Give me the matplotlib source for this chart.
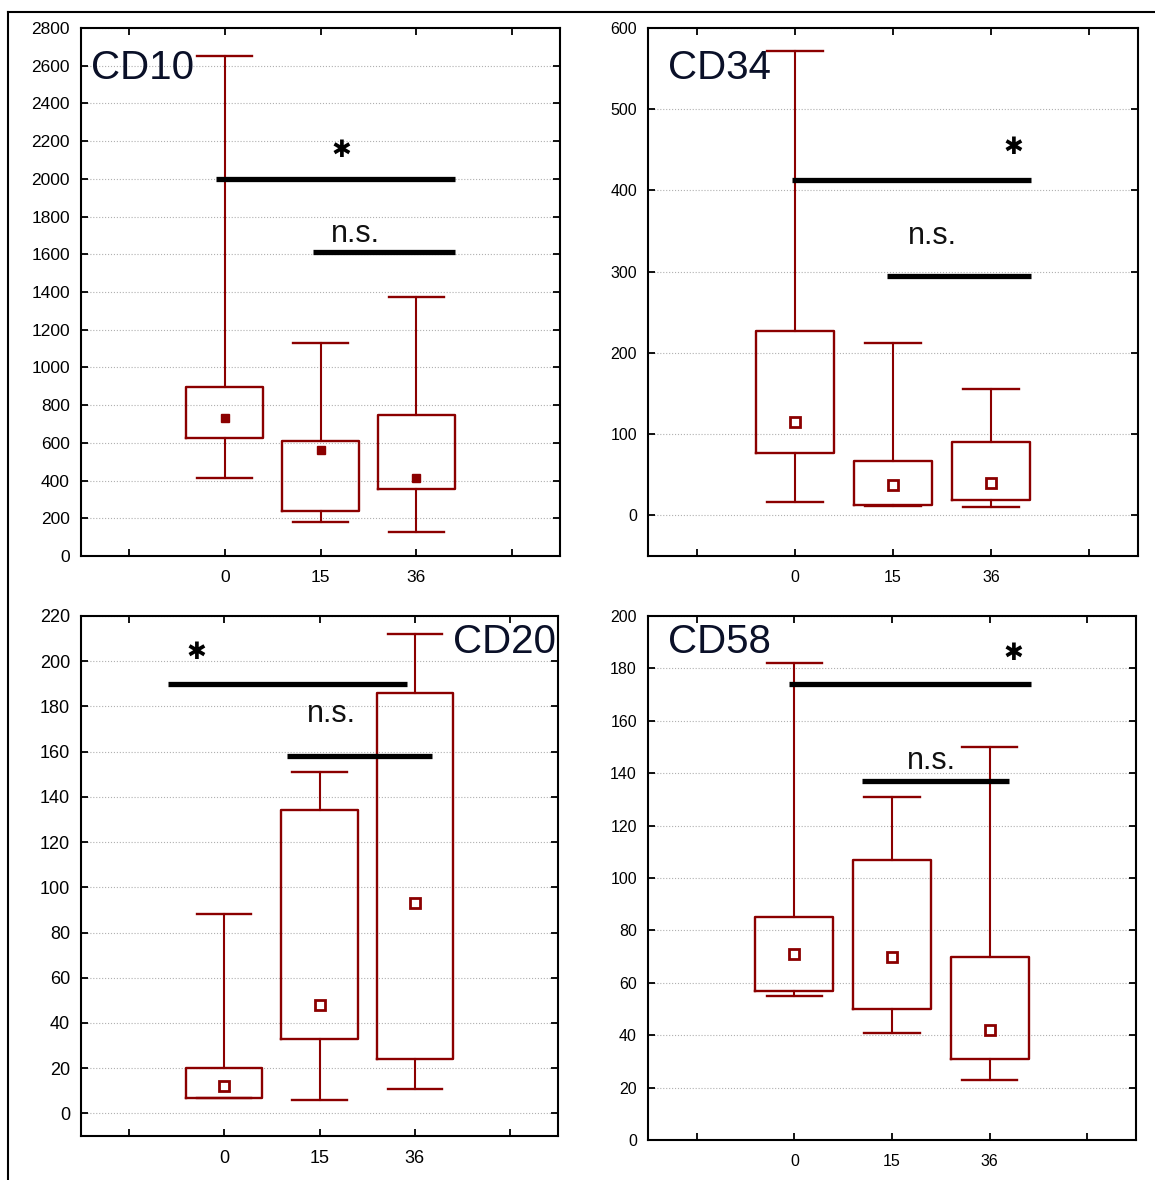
import matplotlib.pyplot as plt
import matplotlib.lines as mlines

plt.rcParams['font.family'] = ['Liberation Sans', 'DejaVu Sans']

groups = ['0', '15', '36']
red = '#8b0000'

# per panel: whisker low, q1, median, q3, whisker high for each group
cd10_low = [413, 180, 125]
cd10_q1 = [625, 240, 355]
cd10_med = [730, 560, 413]
cd10_q3 = [897, 610, 750]
cd10_high = [2650, 1130, 1375]

cd34_low = [17, 12, 10]
cd34_q1 = [77, 13, 19]
cd34_med = [115, 38, 40]
cd34_q3 = [227, 67, 90]
cd34_high = [572, 212, 155]

cd20_low = [7, 6, 11]
cd20_q1 = [7, 33, 24]
cd20_med = [12, 48, 93]
cd20_q3 = [20, 134, 186]
cd20_high = [88, 151, 212]

cd58_low = [55, 41, 23]
cd58_q1 = [57, 50, 31]
cd58_med = [71, 70, 42]
cd58_q3 = [85, 107, 70]
cd58_high = [182, 131, 150]

fig = plt.figure(figsize=(11.55, 11.8), dpi=100)

# outer frame (top and left edge)
fig.add_artist(mlines.Line2D([8/1155, 1], [1-12/1180, 1-12/1180], color='black', lw=1.5))
fig.add_artist(mlines.Line2D([8/1155, 8/1155], [0, 1-12/1180], color='black', lw=1.5))


def panel(rect, low, q1, med, q3, high, ylim, yticks, filled, label, label_pos, label_ha,
          star, big, small, ns_text, tick_size):
    ax = fig.add_axes(rect)
    stats = []
    for i in range(3):
        stats.append({'whislo': low[i], 'q1': q1[i], 'med': med[i],
                      'q3': q3[i], 'whishi': high[i], 'fliers': []})
    ax.bxp(stats, positions=[0, 1, 2], widths=0.8, capwidths=0.57, showfliers=False,
           boxprops=dict(color=red, lw=1.7), whiskerprops=dict(color=red, lw=1.5),
           capprops=dict(color=red, lw=1.7), medianprops=dict(lw=0))
    if filled:
        ax.plot([0, 1, 2], med, 's', color=red, ms=6, zorder=5)
    else:
        ax.plot([0, 1, 2], med, 's', mfc='white', mec=red, mew=2, ms=6.5, zorder=5)

    # significance bars
    ax.plot([big[0], big[1]], [big[2], big[2]], color='black', lw=3.8, solid_capstyle='butt', zorder=6)
    ax.plot([small[0], small[1]], [small[2], small[2]], color='black', lw=3.8, solid_capstyle='butt', zorder=6)
    ax.text(star[0], star[1], '\u2731', fontsize=17, ha='center', va='center',
            family='DejaVu Sans')
    ax.text(ns_text[0], ns_text[1], 'n.s.', fontsize=22, ha='center', va='center', color='#111')
    ax.text(label_pos[0], label_pos[1], label, transform=ax.transAxes, fontsize=29,
            ha=label_ha, va='center', color='#0a1028')

    ax.set_xlim(-1.5, 3.5)
    ax.set_ylim(*ylim)
    ax.set_xticks([-1, 0, 1, 2, 3])
    ax.set_xticklabels([''] + groups + [''], fontsize=tick_size)
    ax.set_yticks(yticks)
    ax.tick_params(direction='in', top=True, right=True, length=5, width=1.3, labelsize=tick_size)
    ax.tick_params(axis='x', pad=10)
    ax.tick_params(axis='y', pad=8)
    ax.yaxis.grid(True, linestyle=':', color='#b0b0b0', lw=0.8)
    ax.set_axisbelow(True)
    for s in ax.spines.values():
        s.set_linewidth(1.5)
    return ax


panel([81/1155, 1-556/1180, 479/1155, 528/1180], cd10_low, cd10_q1, cd10_med, cd10_q3, cd10_high,
      (0, 2800), range(0, 2801, 200), True, 'CD10', (0.02, 0.925), 'left',
      (1.22, 2155), (-0.09, 2.4, 2000), (0.92, 2.4, 1610), (1.37, 1710), 12.5)

panel([648/1155, 1-556/1180, 490/1155, 528/1180], cd34_low, cd34_q1, cd34_med, cd34_q3, cd34_high,
      (-50, 600), range(0, 601, 100), False, 'CD34', (0.04, 0.925), 'left',
      (2.23, 454), (-0.03, 2.41, 413), (0.94, 2.41, 295), (1.4, 344), 11.5)

panel([81/1155, 1-1136/1180, 477/1155, 520/1180], cd20_low, cd20_q1, cd20_med, cd20_q3, cd20_high,
      (-10, 220), range(0, 221, 20), False, 'CD20', (0.995, 0.95), 'right',
      (-0.29, 204), (-0.59, 1.92, 190), (0.66, 2.18, 158), (1.13, 176.5), 13)

panel([648/1155, 1-1140/1180, 488/1155, 524/1180], cd58_low, cd58_q1, cd58_med, cd58_q3, cd58_high,
      (0, 200), range(0, 201, 20), False, 'CD58', (0.04, 0.95), 'left',
      (2.24, 186), (-0.06, 2.42, 174), (0.69, 2.2, 137), (1.4, 144.5), 11.5)

plt.savefig('out.png', dpi=100)
